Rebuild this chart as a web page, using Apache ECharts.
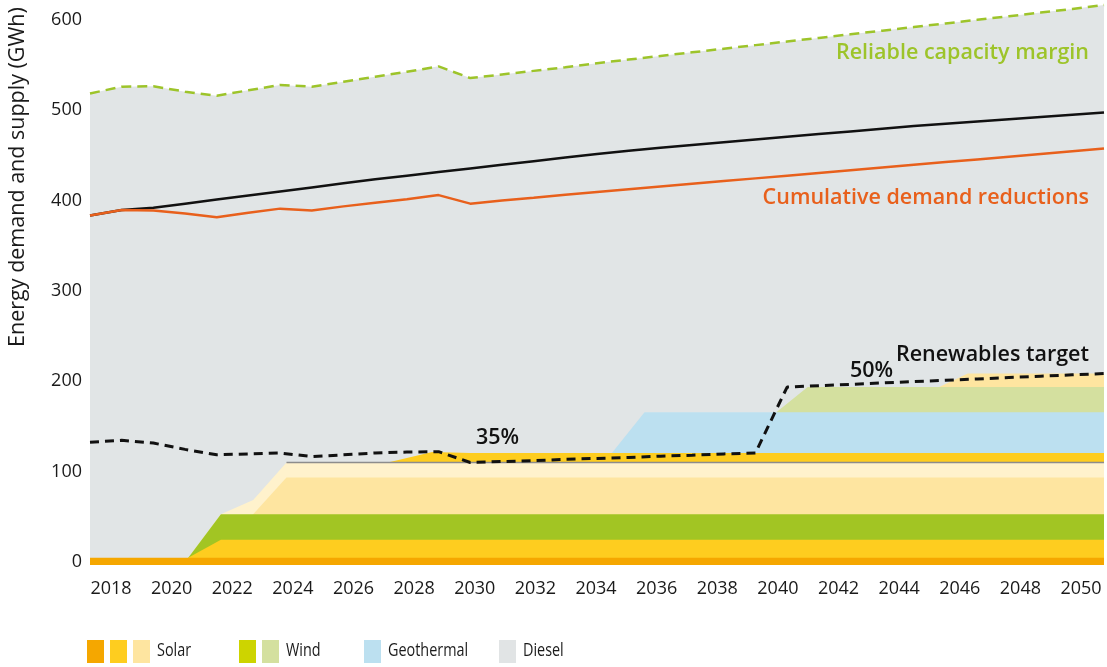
<!DOCTYPE html>
<html>
<head>
<meta charset="utf-8">
<script src="https://cdn.jsdelivr.net/npm/echarts@6/dist/echarts.min.js"></script>
<style>
  html, body { margin: 0; padding: 0; background: #fff; }
  #chart { width: 1107px; height: 667px; }
</style>
</head>
<body>
<div id="chart"></div>
<script>
// yearly series (GWh)
const years = [2018, 2019, 2020, 2021, 2022, 2023, 2024, 2025, 2026, 2027, 2028,
  2029, 2030, 2031, 2032, 2033, 2034, 2035, 2036, 2037, 2038, 2039, 2040,
  2041, 2042, 2043, 2044, 2045, 2046, 2047, 2048, 2049, 2050];
const demand = [387, 393, 395.5, 400, 404.5, 409, 413.5, 418, 422.5, 427, 431,
  435, 439, 443, 447, 451, 455, 458.5, 462, 465, 468, 471, 474,
  477, 480, 483, 486, 488.5, 491, 493.5, 496, 498.5, 501];
const demandReduced = [387, 393, 392.5, 389, 385, 390, 394.5, 392.5, 397, 401, 405,
  409.5, 400, 403.5, 406.5, 410, 413, 416, 419, 422, 425, 428, 431,
  434, 437, 440, 443, 446, 449, 452, 455, 458, 461];
const capacityMargin = [522, 529.5, 530, 524, 519.5, 525.5, 531.5, 529.5, 535, 540.5, 546,
  552, 539, 543, 547, 551, 555.5, 559.5, 563.5, 567.5, 571.5, 575.5, 579.5,
  583.5, 587.5, 591.5, 595.5, 599.5, 603.5, 607.5, 611.5, 615.5, 620];
const renewablesTarget = [136, 138, 135, 128, 122, 123, 124, 120, 122, 124, 125,
  125.5, 113.5, 114.5, 115.5, 117, 118, 119, 120.5, 121.5, 123, 124, 197,
  198.5, 200, 201.5, 203, 204.5, 206, 207.5, 209, 210.5, 212];

// supply bands: top edge of each band as [year, GWh], bottom band first
const solarBase = [[2018, 8], [2050, 8]];
const solarMid = [[2021.1, 8], [2022.13, 28], [2050, 28]];
const windMain = [[2021.1, 8], [2022.13, 56.3], [2050, 56.3]];
const solarLight = [[2023.15, 56.3], [2024.2, 97], [2050, 97]];
const solarPale = [[2021.1, 8], [2022.13, 56.3], [2023.15, 72], [2024.2, 113.5], [2050, 113.5]];
const solarUpper = [[2027.4, 113.5], [2028.8, 125], [2030, 124], [2050, 124]];
const geothermal = [[2034.47, 124], [2035.5, 169], [2050, 169]];
const windLight = [[2039.66, 169], [2040.65, 197], [2050, 197]];
const solarTop = [[2044.8, 197], [2045.7, 212], [2050, 212]];

const legendGroups = [
  { label: 'Solar', colors: ['#f5a700', '#fecd1f', '#fee5a0'], x: 87 },
  { label: 'Wind', colors: ['#cdd400', '#d4e09f'], x: 239 },
  { label: 'Geothermal', colors: ['#bce0f0'], x: 364 },
  { label: 'Diesel', colors: ['#e1e4e5'], x: 499 }
];

const FONT = '"Open Sans", "Noto Sans", sans-serif';
const pairs = vals => years.map((y, i) => [y, vals[i]]);

function band(name, data, color) {
  return {
    name, type: 'line', data, symbol: 'none', clip: false, silent: true,
    lineStyle: { width: 0 }, itemStyle: { color },
    areaStyle: { color, opacity: 1 }
  };
}

function line(name, data, color, width, dash) {
  return {
    name, type: 'line', data, symbol: 'none', clip: false, silent: true,
    itemStyle: { color },
    lineStyle: { color, width, type: dash || 'solid' }
  };
}

function label(text, x, y, color, align) {
  return {
    type: 'text', x, y, z: 100,
    style: { text, fill: color, fontFamily: FONT, fontSize: 21.5, fontWeight: 600,
      textAlign: align, textVerticalAlign: 'middle' }
  };
}

const graphic = [
  {
    type: 'text', x: 18, y: 177, rotation: Math.PI / 2, z: 100,
    style: { text: 'Energy demand and supply (GWh)', fontFamily: FONT, fontSize: 21.5, fill: '#1a1a1a',
      textAlign: 'center', textVerticalAlign: 'middle' }
  },
  label('Reliable capacity margin', 1089, 53, '#9dc42a', 'right'),
  label('Cumulative demand reductions', 1089, 198, '#e8601c', 'right'),
  label('Renewables target', 1089, 355, '#111', 'right'),
  label('50%', 850, 371, '#111', 'left'),
  label('35%', 476, 438, '#111', 'left')
];

legendGroups.forEach(g => {
  let x = g.x;
  g.colors.forEach(c => {
    graphic.push({ type: 'rect', z: 100, shape: { x, y: 640, width: 17, height: 23 }, style: { fill: c } });
    x += 23;
  });
  graphic.push({ type: 'text', x: x + 1, y: 651, scaleX: 0.8, z: 100,
    style: { text: g.label, fontFamily: FONT, fontSize: 18, fill: '#1a1a1a', textVerticalAlign: 'middle' } });
});

const chart = echarts.init(document.getElementById('chart'), null, { renderer: 'canvas' });
chart.setOption({
  animation: false,
  textStyle: { fontFamily: FONT },
  grid: [
    { left: 90, right: 3, top: 23, bottom: 102 },
    { left: 111, right: 26, top: 23, bottom: 102 }
  ],
  xAxis: [
    { type: 'value', gridIndex: 0, min: 2018, max: 2050, show: false },
    {
      type: 'value', gridIndex: 1, min: 2018, max: 2050, interval: 2,
      axisLine: { show: false }, axisTick: { show: false }, splitLine: { show: false },
      axisLabel: { fontSize: 18, color: '#1a1a1a', margin: 15, formatter: v => String(v) }
    }
  ],
  yAxis: [
    {
      type: 'value', gridIndex: 0, min: 0, max: 600, interval: 100,
      axisLine: { show: false }, axisTick: { show: false }, splitLine: { show: false },
      axisLabel: { fontSize: 18, color: '#1a1a1a', margin: 8, verticalAlign: 'bottom', lineHeight: 6 }
    },
    { type: 'value', gridIndex: 1, min: 0, max: 600, show: false }
  ],
  graphic,
  series: [
    band('Diesel', pairs(capacityMargin), '#e1e5e6'),
    band('Solar (late)', solarTop, '#fee5a0'),
    band('Wind (new)', windLight, '#d4e09f'),
    band('Geothermal', geothermal, '#bce0f0'),
    band('Solar (upper)', solarUpper, '#fecd1f'),
    band('Solar (pale)', solarPale, '#fff2cc'),
    band('Solar (light)', solarLight, '#fee5a0'),
    band('Wind', windMain, '#a2c523'),
    band('Solar (mid)', solarMid, '#fecd1f'),
    band('Solar (base)', solarBase, '#f5a700'),
    line('Pale edge', solarPale.slice(3), '#8c8c8c', 1.5),
    line('Reliable capacity margin', pairs(capacityMargin), '#9dc42a', 2.5, [10, 6]),
    line('Demand', pairs(demand), '#111', 2.5),
    line('Cumulative demand reductions', pairs(demandReduced), '#e8601c', 2.5),
    line('Renewables target', pairs(renewablesTarget), '#111', 3, [9, 6])
  ]
});
</script>
</body>
</html>
